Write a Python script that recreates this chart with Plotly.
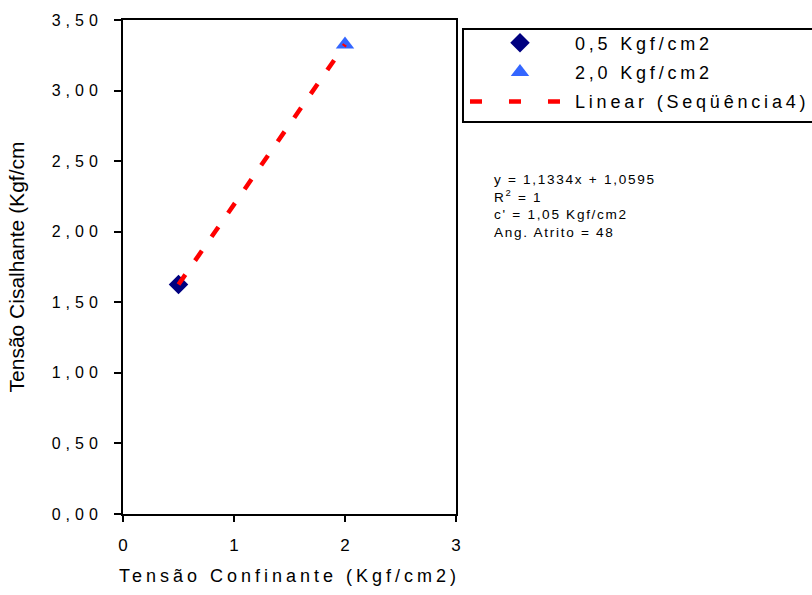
import plotly.graph_objects as go

# data
x_a = [0.5]
y_a = [1.6262]
x_b = [2.0]
y_b = [3.3263]
slope = 1.1334
intercept = 1.0595
trend_x = [0.5, 2.0]
trend_y = [slope * v + intercept for v in trend_x]
names = ["0,5 Kgf/cm2", "2,0 Kgf/cm2", "Linear (Seqüência4)"]
eq_lines = ["y = 1,1334x + 1,0595", "R<sup>2</sup> = 1", "c' = 1,05 Kgf/cm2", "Ang. Atrito = 48"]

FONT = "Liberation Sans, Arial, sans-serif"

fig = go.Figure()
fig.add_trace(go.Scatter(x=x_a, y=y_a, mode="markers", name=names[0], legendgroup="a",
                         marker=dict(symbol="diamond", size=15, color="#000080")))
fig.add_trace(go.Scatter(x=x_b, y=y_b, mode="markers", name=names[1], legendgroup="b",
                         marker=dict(symbol="triangle-up", size=16, color="#3366FF")))
# trendline (legend entry drawn separately with the legend's dash spacing)
fig.add_trace(go.Scatter(x=trend_x, y=trend_y, mode="lines", name=names[2], legendgroup="c",
                         showlegend=False,
                         line=dict(color="#FF0000", width=4.5, dash="12px,17px")))
fig.add_trace(go.Scatter(x=[None], y=[None], mode="lines", name=names[2], legendgroup="c",
                         line=dict(color="#FF0000", width=4.5, dash="12px,27px")))

fig.update_layout(
    width=812, height=595,
    margin=dict(l=123, r=356, t=16, b=80),
    paper_bgcolor="white", plot_bgcolor="white",
    separators=",.",
    font=dict(family=FONT, size=16, color="black"),
    showlegend=True,
    legend=dict(x=1.027, y=0.991, xanchor="left", yanchor="top",
                borderwidth=0, bgcolor="rgba(0,0,0,0)",
                font=dict(size=18), itemwidth=100, tracegroupgap=3),
    xaxis=dict(range=[0, 3], dtick=1, tickformat="d", showgrid=False, zeroline=False,
               showline=True, linecolor="black", linewidth=2, mirror=True,
               ticks="outside", ticklen=6, tickwidth=2, tickcolor="black",
               ticklabelstandoff=9, tickfont=dict(size=17),
               title=dict(text="Tensão Confinante (Kgf/cm2)", font=dict(size=18), standoff=15)),
    yaxis=dict(range=[0, 3.5], dtick=0.5, tickformat=".2f", showgrid=False, zeroline=False,
               showline=True, linecolor="black", linewidth=2, mirror=True,
               ticks="outside", ticklen=7, tickwidth=2, tickcolor="black",
               ticklabelstandoff=8, tickfont=dict(size=16),
               title=dict(text="Tensão Cisalhante (Kgf/cm", font=dict(size=21), standoff=41)),
)

# legend frame (extends past the right edge like the original)
fig.add_shape(type="rect", xref="paper", yref="paper", x0=1.021, x1=2.2, y0=0.7936, y1=0.982,
              line=dict(color="black", width=2), fillcolor="rgba(0,0,0,0)", layer="above")

fig.add_annotation(xref="paper", yref="paper", x=1.107, y=0.697, xanchor="left", yanchor="top",
                   text="<br>".join(eq_lines), showarrow=False, align="left",
                   font=dict(size=13.6, family=FONT))

post = """
document.body.style.margin='0';
var st=document.createElement('style');
st.textContent='.ytick text{letter-spacing:5px}.xtitle{letter-spacing:4px}.legendtext{letter-spacing:3.8px}.annotation-text{letter-spacing:1.7px}';
document.head.appendChild(st);
document.querySelectorAll('.legend [clip-path], .legend').forEach(function(e){e.removeAttribute('clip-path');});
"""

fig.write_html("out.html", post_script=post, config={"displayModeBar": False})
